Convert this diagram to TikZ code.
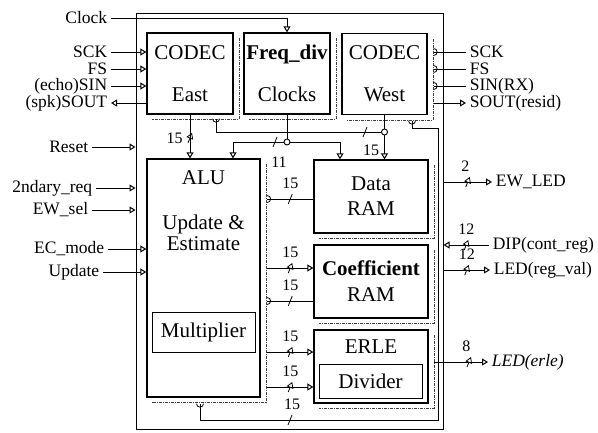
\documentclass[tikz,border=0pt]{standalone}
\usepackage{fontspec}
\setmainfont{Liberation Serif}
\usetikzlibrary{arrows.meta,positioning,calc}

\begin{document}
\begin{tikzpicture}[x=1pt,y=-1pt,line width=1pt,>={Triangle[open,length=6pt,width=7pt]},
  blk/.style={draw,line width=1.3pt,inner sep=0pt,align=center,font=\fontsize{21}{25}\selectfont},
  sub/.style={draw,line width=.9pt,inner sep=0pt,font=\fontsize{21}{25}\selectfont},
  boxtxt/.style={inner sep=0pt,align=center,font=\fontsize{21}{21}\selectfont},
  shad/.style={densely dash dot,line width=.6pt,black!75},
  lbl/.style={font=\fontsize{17.5}{20}\selectfont,inner ysep=0pt},
  bus/.style={font=\fontsize{16}{18}\selectfont,inner sep=1pt},
  dot/.style={circle,draw,fill=white,line width=.9pt,inner sep=0pt,minimum size=6pt},
  slash/.pic={\draw[line width=.8pt] (-2pt,-5pt)--(2pt,5pt);},
  bump/.pic={\draw[line width=.8pt] (0,-3.5pt) arc[start angle=-90,end angle=90,radius=3.5pt];}]
\useasboundingbox (0,0) rectangle (598,432);
% outer frame and blocks
\node[draw,minimum width=307pt,minimum height=416pt,inner sep=0pt] (frame) at (289.5,221) {};
\node[blk,minimum width=86pt,minimum height=81pt] (east) at (190,73.5) {CODEC\\[17pt]East};
\node[blk,minimum width=86pt,minimum height=81pt] (freq) at (287,73.5) {\textbf{Freq\_div}\\[17pt]Clocks};
\node[blk,minimum width=85pt,minimum height=81pt] (west) at (384.5,74) {CODEC\\[17pt]West};
\node[blk,minimum width=113pt,minimum height=238pt] (alu) at (203.5,278) {};
\node[boxtxt] (alut) at (203.5,178) {ALU};
\node[boxtxt] (updt) at (203.5,233) {Update \&\\Estimate};
\node[sub,minimum width=103pt,minimum height=40pt] (mult) at (203.5,332) {Multiplier};
\node[blk,minimum width=114pt,minimum height=73pt] (data) at (371,196.5) {Data\\RAM};
\node[blk,minimum width=114pt,minimum height=73pt] (coef) at (371,281.5) {\textbf{Coefficient}\\[1pt]RAM};
\node[blk,minimum width=114pt,minimum height=73pt] (erle) at (371,366.5) {};
\node[boxtxt] (erlet) at (371,347) {ERLE};
\node[sub,minimum width=103pt,minimum height=34pt] (dvd) at (370.5,381) {Divider};
\foreach \n in {east,freq,west,alu,data,coef,erle}
  \draw[shad] ([shift={(5.5pt,-6pt)}]\n.north east) |- ([shift={(6pt,-5pt)}]\n.south west);
\coordinate (wsh) at ($(west.east)+(6,0)$);
\coordinate (alush) at ($(alu.east)+(6.5,0)$);
\coordinate (eastbot) at ($(east.south)+(26,4)$);
\coordinate (westbot) at ($(west.south)+(27.5,5.5)$);
\coordinate (alubot) at ($(alu.south)+(-3.5,6)$);
\node[dot] (fdot) at (287,142) {};
\node[dot] (wdot) at (384.5,132) {};

% left side signals
\node[lbl,anchor=east] (clk) at (111,18) {Clock};
\foreach \n/\y/\t in {sckl/52/SCK,fsl/69/FS,sinl/86/{(echo)SIN},soutl/103/{(spk)SOUT}}
  \node[lbl,anchor=east] (\n) at (111,\y) {\t};
\node[lbl,anchor=east] (reset) at (92,147) {Reset};
\node[lbl,anchor=east] (sndreq) at (96,188) {2ndary\_req};
\node[lbl,anchor=east] (ewsel) at (92,210) {EW\_sel};
\node[lbl,anchor=east] (ecmode) at (108,249) {EC\_mode};
\node[lbl,anchor=east] (upd) at (103,272) {Update};
\draw[->] (clk.east) -| (freq.north);
\foreach \n in {sckl,fsl,sinl} \draw[->] (\n) -- (\n -| east.west);
\draw[<-] (soutl) -- (soutl -| east.west);
\foreach \n in {reset,sndreq,ewsel} \draw[->] (\n) -- (\n -| frame.west);
\foreach \n in {ecmode,upd} \draw[->] (\n) -- (\n -| alu.west);

% right side signals
\foreach \n/\y/\t in {sckr/52/SCK,fsr/69/FS,sinr/86/SIN(RX),soutr/103/SOUT(resid)}
  \node[lbl,anchor=west] (\n) at (466,\y) {\t};
\node[lbl,anchor=west] (ewled) at (492,182) {EW\_LED};
\node[lbl,anchor=west] (dip) at (489,245) {DIP(cont\_reg)};
\node[lbl,anchor=west] (ledr) at (490,270) {LED(reg\_val)};
\node[lbl,anchor=west] (lede) at (488,362) {\itshape LED(erle)};
\foreach \n in {sckr,fsr,sinr} \draw (\n) -- (\n -| wsh) pic{bump};
\draw[->] (soutr -| wsh) -- (soutr);
\draw[->] (ewled -| frame.east) -- (ewled) pic[pos=.5]{slash} node[bus,pos=.45,above=9pt] (b2) {2};
\draw[->] (dip) -- (dip -| frame.east) pic[pos=.5]{slash} node[bus,pos=.5,above=9pt] (b12a) {12};
\draw[->] (ledr -| frame.east) -- (ledr) pic[pos=.5]{slash} node[bus,pos=.5,above=9pt] (b12b) {12};
\draw[->] (lede -| wsh) -- (lede) pic[pos=.65]{slash} node[bus,pos=.6,above=9pt] (b8) {8};

% internal buses
\draw[->] (east.south) -- (east.south |- alu.north) pic[pos=.53]{slash} node[bus,pos=.53,left=6pt] (b15e) {15};
\draw (freq.south) -- (fdot);
\draw[->] (fdot) -| ([xshift=29.5pt]alu.north);
\draw[->] (fdot) -| ([xshift=-31pt]data.north);
\pic at (275,142) {slash};
\node[bus] (b11) at (279,162) {11};
\draw (eastbot) |- (wdot);
\path (eastbot) pic[rotate=-90]{bump};
\draw (west.south) -- (wdot);
\draw[->] (wdot) -- (wdot |- data.north);
\pic at (365,132) {slash};
\node[bus] (b15w) at (371,150) {15};
\draw (alubot) -- (alubot |- 0,420) -| (438,128) -| (westbot);
\path (alubot) pic[rotate=-90]{bump} (westbot) pic[rotate=-90]{bump};
\pic at (290,420) {slash};
\node[bus] (b15f) at (292,404) {15};
\draw (data.west |- 0,199) -- (alush |- 0,199) pic{bump} pic[pos=.5]{slash} node[bus,pos=.5,above=9pt] (b15a) {15};
\draw[->] (alush |- 0,268) -- (coef.west |- 0,268) pic[pos=.5]{slash} node[bus,pos=.5,above=9pt] (b15b) {15};
\draw (coef.west |- 0,301) -- (alush |- 0,301) pic{bump} pic[pos=.5]{slash} node[bus,pos=.5,above=9pt] (b15c) {15};
\draw[->] (alush |- 0,352) -- (erle.west |- 0,352) pic[pos=.5]{slash} node[bus,pos=.5,above=9pt] (b15d) {15};
\draw[->] (alush |- 0,387) -- (erle.west |- 0,387) pic[pos=.5]{slash} node[bus,pos=.5,above=9pt] (b15g) {15};
\end{tikzpicture}
\end{document}
